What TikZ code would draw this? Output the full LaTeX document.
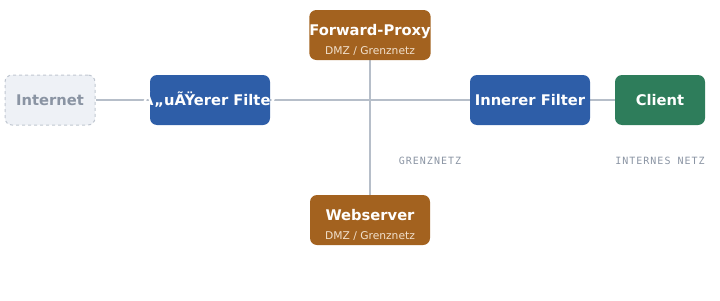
\documentclass[tikz,border=0pt]{standalone}
\usepackage{fontspec}
\setmainfont{DejaVu Sans}
\newfontfamily\zonefont[LetterSpace=10]{DejaVu Sans Mono}
\usepackage{xcolor}
\usepackage{tikz}
\usetikzlibrary{backgrounds}
\definecolor{wire}{HTML}{B6BEC9}
\definecolor{filterc}{HTML}{2E5EA8}
\definecolor{dmzc}{HTML}{A3621F}
\definecolor{clientc}{HTML}{2E7D5B}
\definecolor{netfill}{HTML}{EEF1F6}
\definecolor{netline}{HTML}{C0C7D1}
\definecolor{txtfaint}{HTML}{8A94A3}
\definecolor{subtxt}{HTML}{F1E0CC}

\tikzset{
  box/.style={rounded corners=7pt, minimum height=50pt, inner sep=0pt, text=white,
    font=\fontsize{14.7}{17}\selectfont\bfseries},
  filterbox/.style={box, fill=filterc, minimum width=120pt},
  dmzbox/.style={box, fill=dmzc, minimum width=120pt, align=center},
  clientbox/.style={box, fill=clientc, minimum width=90pt},
  netbox/.style={box, fill=netfill, draw=netline, dashed, line width=1pt,
    minimum width=90pt, text=txtfaint},
  zone/.style={txtfaint, font=\fontsize{10}{12}\selectfont\zonefont},
  wired/.style={wire, line width=1.5pt}
}
\newcommand{\subline}[1]{\\[2pt]{\fontsize{10.7}{12}\selectfont\mdseries\color{subtxt}#1}}

\begin{document}
\begin{tikzpicture}[x=1pt, y=-1pt]
    \useasboundingbox (0,0) rectangle (720,300);
    \node[netbox] (internet) at (50,100) {Internet};
    \node[filterbox] (outer) at (210,100) {\makebox[0pt]{Ã„uÃŸerer Filter}};
    \node[filterbox] (inner) at (530,100) {Innerer Filter};
    \node[clientbox] (client) at (660,100) {Client};
    % strut on the title line pushes both lines down a little
    \node[dmzbox] (proxy) at (370,35) {\rule{0pt}{21pt}Forward-Proxy\subline{DMZ / Grenznetz}};
    \node[dmzbox] (web) at (370,220) {\rule{0pt}{20pt}Webserver\subline{DMZ / Grenznetz}};
    \node[zone] (grenz) at (430,161) {GRENZNETZ};
    \node[zone] (intern) at (660,161) {INTERNES NETZ};
    \begin{scope}[on background layer]
      \draw[wired] (internet) -- (outer);
      \draw[wired] (outer) -- (inner);
      \draw[wired] (inner) -- (client);
      \draw[wired] (proxy) -- (web);
    \end{scope}
  \end{tikzpicture}
\end{document}
